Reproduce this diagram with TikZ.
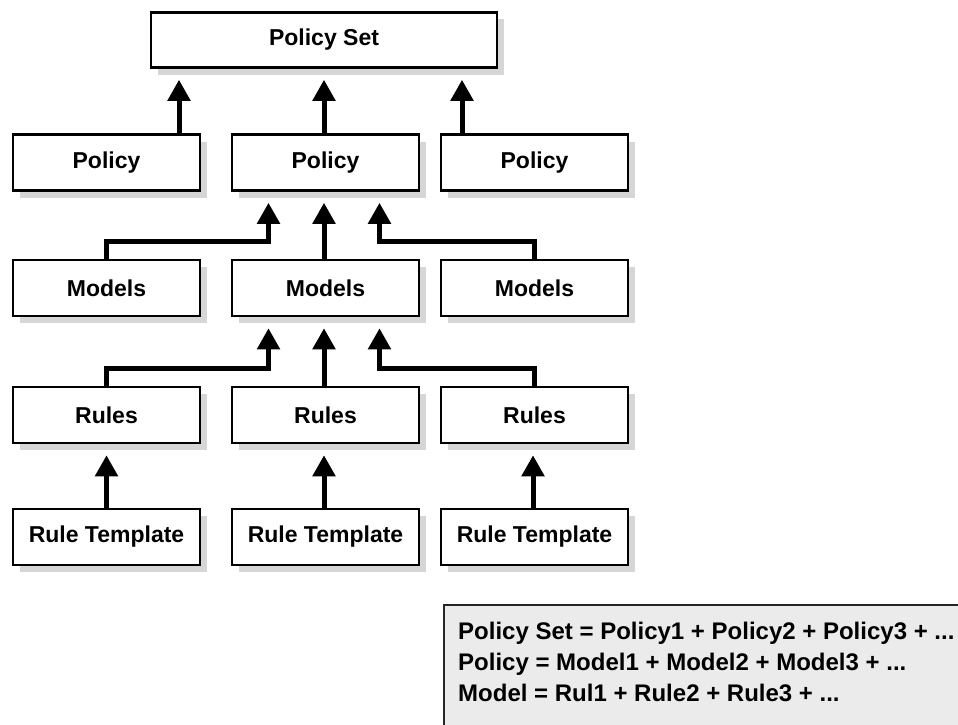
\documentclass[tikz,border=0pt]{standalone}
\usepackage{fontspec}
\setmainfont{Liberation Sans}
\usetikzlibrary{arrows.meta,calc,shadows}

\tikzset{
  box/.style={draw=black, line width=2.5pt, fill=white, minimum width=187pt,
    minimum height=56pt, inner sep=0pt,
    font=\fontsize{23}{28}\selectfont\bfseries,
    drop shadow={shadow xshift=7pt, shadow yshift=-7pt, fill=black!16, opacity=1}},
  arr/.style={line width=5pt, line join=miter, shorten >=11pt,
    -{Triangle[width=22pt,length=21pt]}},
  legendbox/.style={draw=black!85, line width=2pt, fill=black!8, inner sep=0pt},
  legendtext/.style={align=left, inner sep=0pt,
    font=\fontsize{24}{31}\selectfont\bfseries}
}

\begin{document}
\begin{tikzpicture}[x=1pt,y=-1pt]
  \useasboundingbox (0,0) rectangle (958,725);

  % hierarchy boxes
  \node[box, minimum width=346pt, minimum height=55pt] (ps) at (324,40) {Policy Set};

  \node[box] (polL) at (106.5,162.5) {Policy};
  \node[box] (polM) at (325.5,162.5) {Policy};
  \node[box] (polR) at (534.5,162.5) {Policy};

  \node[box] (modL) at (106.5,288) {Models};
  \node[box] (modM) at (325.5,288) {Models};
  \node[box] (modR) at (534.5,288) {Models};

  \node[box] (rulL) at (106.5,415) {Rules};
  \node[box] (rulM) at (325.5,415) {Rules};
  \node[box] (rulR) at (534.5,415) {Rules};

  \node[box] (rtL) at (106.5,537) {Rule Template};
  \node[box] (rtM) at (325.5,537) {Rule Template};
  \node[box] (rtR) at (534.5,537) {Rule Template};

  % policies into the policy set
  \coordinate (psA) at ($(ps.south)+(-145,0)$);
  \coordinate (psB) at ($(ps.south)+(0,0)$);
  \coordinate (psC) at ($(ps.south)+(138,0)$);
  \draw[arr] (psA |- polL.north) -- (psA);
  \draw[arr] (psB |- polM.north) -- (psB);
  \draw[arr] (psC |- polR.north) -- (psC);

  % models into the middle policy
  \coordinate (polA) at ($(polM.south)+(-57,0)$);
  \coordinate (polB) at ($(polM.south)+(-1.5,0)$);
  \coordinate (polC) at ($(polM.south)+(54,0)$);
  \draw[arr] (modL.north) -- ++(0,-17) -| (polA);
  \draw[arr] (polB |- modM.north) -- (polB);
  \draw[arr] (modR.north) -- ++(0,-17) -| (polC);

  % rules into the middle model
  \coordinate (modA) at ($(modM.south)+(-57,0)$);
  \coordinate (modB) at ($(modM.south)+(-1.5,0)$);
  \coordinate (modC) at ($(modM.south)+(54,0)$);
  \draw[arr] (rulL.north) -- ++(0,-17) -| (modA);
  \draw[arr] (modB |- rulM.north) -- (modB);
  \draw[arr] (rulR.north) -- ++(0,-17) -| (modC);

  % templates into rules
  \coordinate (rulLb) at ($(rulL.south)+(0,0)$);
  \coordinate (rulMb) at ($(rulM.south)+(-1.5,0)$);
  \coordinate (rulRb) at ($(rulR.south)+(-1.5,0)$);
  \draw[arr] (rulLb |- rtL.north) -- (rulLb);
  \draw[arr] (rulMb |- rtM.north) -- (rulMb);
  \draw[arr] (rulRb |- rtR.north) -- (rulRb);

  % legend (base anchor sits on the last line)
  \node[legendbox, anchor=north west, minimum width=540pt, minimum height=140pt]
    (legend) at (443,604) {};
  \node[legendtext, anchor=base west] (legendtxt) at (458,701)
    {Policy Set = Policy1 + Policy2 + Policy3 + ...\\
     Policy = Model1 + Model2 + Model3 + ...\\
     Model = Rul1 + Rule2 + Rule3 + ...};
\end{tikzpicture}
\end{document}
